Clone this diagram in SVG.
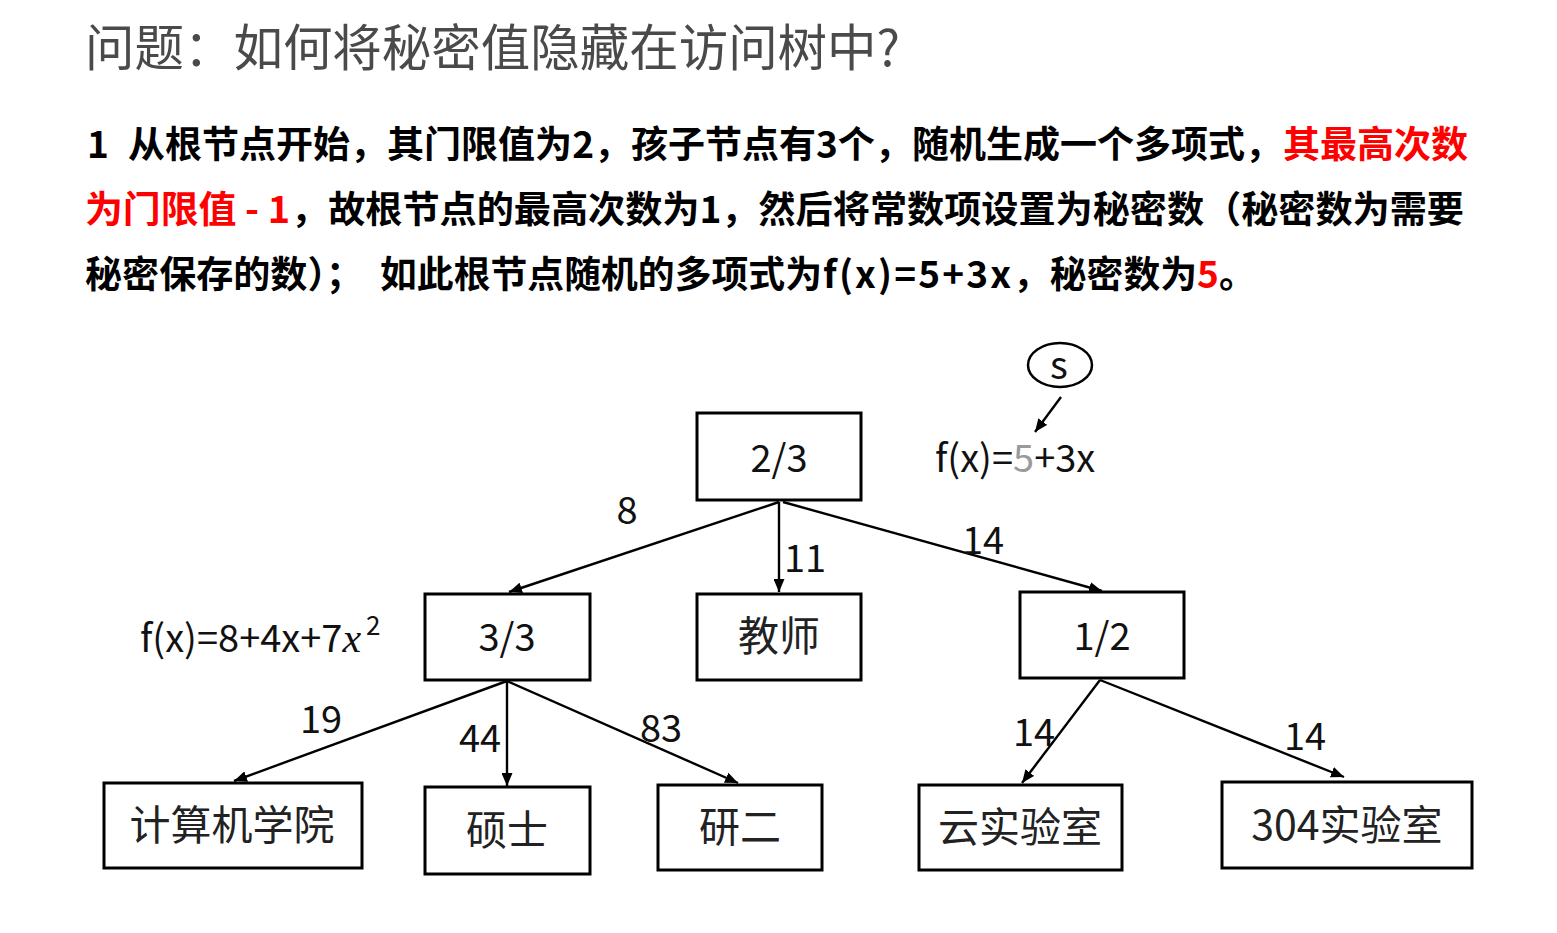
<svg xmlns="http://www.w3.org/2000/svg" width="1557" height="933" viewBox="0 0 1557 933">
<style>
.title{font-family:"Noto Sans CJK SC","Noto Sans",sans-serif;font-size:50px;fill:#4a4a4a}
.para{font-family:"Noto Sans CJK SC","Noto Sans",sans-serif;font-size:37px;font-weight:700;fill:#000}
.red{fill:#ff0000}
.box{fill:#fff;stroke:#000;stroke-width:3}
.lbl{font-family:"Noto Sans CJK SC","Noto Sans",sans-serif;font-size:38px;fill:#111}
.cn{font-family:"Noto Sans CJK SC",sans-serif;font-size:41px;fill:#222}
.edge{stroke:#000;stroke-width:2.4;fill:none;marker-end:url(#arr)}
</style>
<defs>
<marker id="arr" markerUnits="userSpaceOnUse" markerWidth="13" markerHeight="11" refX="13" refY="5.5" orient="auto">
<path d="M0,0 L13,5.5 L0,11 z" fill="#000"/>
</marker>
</defs>
<rect width="1557" height="933" fill="#fff"/>

<text class="title" x="85" y="66" textLength="815" lengthAdjust="spacingAndGlyphs">问题：如何将秘密值隐藏在访问树中?</text>

<text class="para" x="87" y="158">1</text>
<text class="para" x="128" y="158" textLength="1154" lengthAdjust="spacingAndGlyphs">从根节点开始，其门限值为2，孩子节点有3个，随机生成一个多项式，</text>
<text class="para red" x="1283" y="158" textLength="185" lengthAdjust="spacingAndGlyphs">其最高次数</text>
<text class="para red" x="85" y="223" textLength="205" lengthAdjust="spacingAndGlyphs">为门限值 - 1</text>
<text class="para" x="291" y="223" textLength="1173" lengthAdjust="spacingAndGlyphs">，故根节点的最高次数为1，然后将常数项设置为秘密数（秘密数为需要</text>
<text class="para" x="85" y="288" textLength="278" lengthAdjust="spacingAndGlyphs">秘密保存的数）；</text>
<text class="para" x="380" y="288" textLength="442" lengthAdjust="spacingAndGlyphs">如此根节点随机的多项式为</text>
<text class="para" x="823" y="288" textLength="188" lengthAdjust="spacing">f(x)=5+3x</text>
<text class="para" x="1013" y="288" textLength="184" lengthAdjust="spacingAndGlyphs">，秘密数为</text>
<text class="para red" x="1197" y="288">5</text>
<text class="para" x="1219" y="288">。</text>

<g id="connectors">
<line class="edge" x1="1061" y1="397" x2="1035" y2="432"/>
<line class="edge" x1="779" y1="502" x2="509" y2="592"/>
<line class="edge" x1="779" y1="502" x2="779" y2="592"/>
<line class="edge" x1="783" y1="502" x2="1102" y2="591"/>
<line class="edge" x1="507" y1="681" x2="234" y2="781"/>
<line class="edge" x1="507" y1="681" x2="507" y2="786"/>
<line class="edge" x1="507" y1="681" x2="738" y2="783"/>
<line class="edge" x1="1100" y1="680" x2="1022" y2="783"/>
<line class="edge" x1="1100" y1="680" x2="1344" y2="777"/>
<text class="lbl" x="627" y="524" text-anchor="middle">8</text>
<text class="lbl" x="805" y="572" text-anchor="middle">11</text>
<text class="lbl" x="983" y="554" text-anchor="middle">14</text>
<text class="lbl" x="321" y="733" text-anchor="middle">19</text>
<text class="lbl" x="480" y="752" text-anchor="middle">44</text>
<text class="lbl" x="661" y="742" text-anchor="middle">83</text>
<text class="lbl" x="1034" y="746" text-anchor="middle">14</text>
<text class="lbl" x="1305" y="750" text-anchor="middle">14</text>
</g>

<g id="secret">
<ellipse cx="1060" cy="365" rx="32" ry="22" fill="#fff" stroke="#000" stroke-width="2.5"/>
<text class="lbl" x="1059" y="379" text-anchor="middle">s</text>
</g>

<g id="root-poly">
<text class="lbl" x="935" y="472">f(x)=<tspan fill="#9a9a9a">5</tspan>+3x</text>
</g>

<g id="node-root">
<rect class="box" x="697" y="413" width="164" height="87"/>
<text class="lbl" x="779" y="472" text-anchor="middle">2/3</text>
</g>

<g id="left-poly">
<text class="lbl" x="140" y="652">f(x)=8+4x+7<tspan font-family="'Liberation Serif',serif" font-style="italic" font-size="42px">x</tspan><tspan font-size="26px" dy="-17" dx="5">2</tspan></text>
</g>

<g id="node-33">
<rect class="box" x="425" y="594" width="165" height="86"/>
<text class="lbl" x="507" y="651" text-anchor="middle">3/3</text>
</g>

<g id="node-teacher">
<rect class="box" x="697" y="594" width="164" height="86"/>
<text class="cn" x="779" y="651" text-anchor="middle">教师</text>
</g>

<g id="node-12">
<rect class="box" x="1020" y="592" width="164" height="86"/>
<text class="lbl" x="1102" y="650" text-anchor="middle">1/2</text>
</g>

<g id="node-cs">
<rect class="box" x="104" y="783" width="258" height="85"/>
<text class="cn" x="232" y="840" text-anchor="middle">计算机学院</text>
</g>

<g id="node-master">
<rect class="box" x="425" y="787" width="165" height="87"/>
<text class="cn" x="507" y="845" text-anchor="middle">硕士</text>
</g>

<g id="node-yan2">
<rect class="box" x="658" y="785" width="164" height="85"/>
<text class="cn" x="740" y="842" text-anchor="middle">研二</text>
</g>

<g id="node-cloud">
<rect class="box" x="919" y="785" width="203" height="85"/>
<text class="cn" x="1020" y="842" text-anchor="middle">云实验室</text>
</g>

<g id="node-304">
<rect class="box" x="1222" y="782" width="250" height="86"/>
<text class="cn" x="1347" y="840" text-anchor="middle">304实验室</text>
</g>
</svg>
